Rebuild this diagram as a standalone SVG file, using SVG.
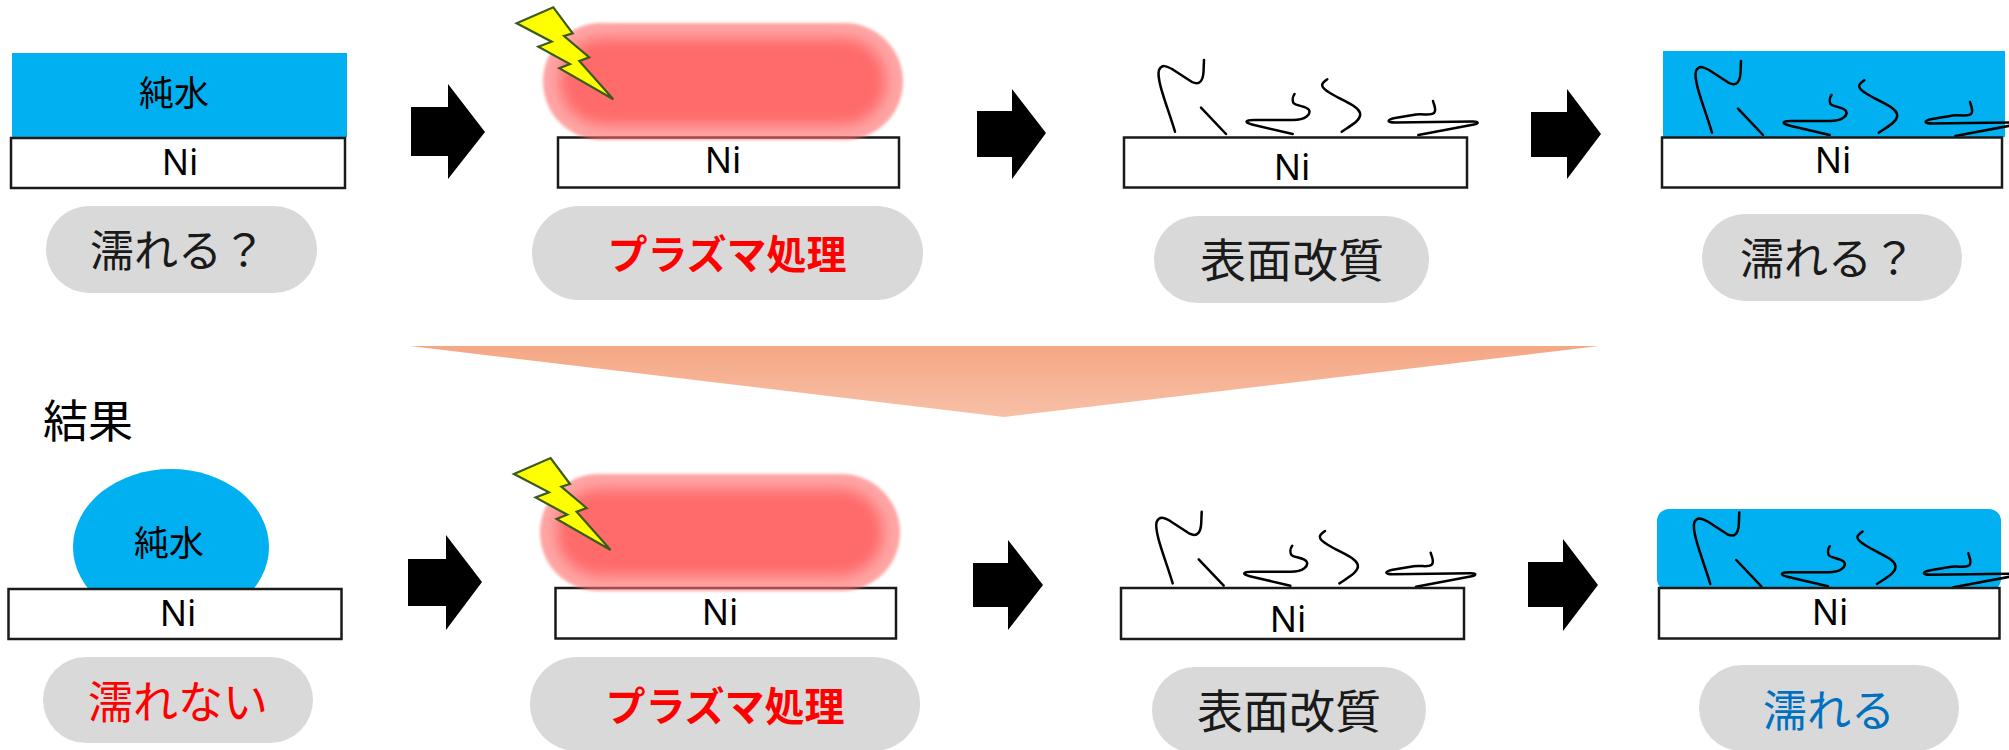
<svg xmlns="http://www.w3.org/2000/svg" xmlns:xlink="http://www.w3.org/1999/xlink" width="2009" height="750" viewBox="0 0 2009 750">
  <style>
    .jp { font-family: "Noto Sans CJK JP", "Noto Sans", sans-serif; text-anchor: middle; }
    .ni { font-family: "Noto Sans", "Open Sans", sans-serif; font-size: 36px; text-anchor: middle; fill: #000; }
    .sub { fill: #fff; stroke: #1a1a1a; stroke-width: 2.5; }
    .pill { fill: #d9d9d9; }
    .water { fill: #00b0f0; }
    .arrow { fill: #000; }
    .chain { fill: none; stroke: #000; stroke-width: 2.5; stroke-linecap: round; stroke-linejoin: round; }
    .bolt { fill: #ffff00; stroke: #3b5a1c; stroke-width: 2.2; stroke-linejoin: miter; }
  </style>
  <defs>
    <linearGradient id="funnelGrad" x1="0" y1="0" x2="0" y2="1">
      <stop offset="0" stop-color="#f5a784"/>
      <stop offset="1" stop-color="#f7c0a7"/>
    </linearGradient>
    <filter id="softEdge" x="-20%" y="-40%" width="140%" height="180%">
      <feGaussianBlur stdDeviation="7"/>
    </filter>
    <filter id="softOuter" x="-10%" y="-20%" width="120%" height="140%">
      <feGaussianBlur stdDeviation="1.5"/>
    </filter>
    <!-- surface chains grafted on the Ni substrate -->
    <g id="chains" class="chain">
      <path d="M1175,131.7 C1168,108 1156,80 1159,70 C1162,64 1166,66 1172,69 L1192,82 C1200,86 1203,80 1203.5,72 L1204,60"/>
      <path d="M1201,107.7 L1226,134"/>
      <path d="M1292.7,134 L1252,124.5 C1244,122.5 1245,120 1254,120 L1293,120 C1306,120 1311,114 1309,110 C1307,106 1296,106 1293.5,103 C1292,100 1293,96 1294.5,94"/>
      <path d="M1341.7,131.7 C1350,126 1362,120 1360,113 C1358,106 1345,102 1330,93 C1318,86 1322,83 1327.3,79.3"/>
      <path d="M1418.3,135 L1474,124.5 C1479,123.5 1479,121.5 1473,121.5 L1395,122.5 C1386,122.5 1387,119.5 1395,118 L1416,114.5 C1424,113.5 1430,116 1434,113 C1437,110 1434,105 1433,101"/>
    </g>
    <polygon id="bolt" class="bolt" points="516.7,23.3 553.3,7.3 572.7,33.3 564,36 589.3,57.3 579.3,61 613.3,99.3 559.3,68.3 570,64 538.3,46.7 551.7,41.7"/>
    <g id="plasma">
      <rect x="543" y="23" width="360" height="117" rx="58.5" fill="#ff6b6b" opacity="0.6" filter="url(#softOuter)"/>
      <rect x="560" y="38" width="326" height="87" rx="43.5" fill="#ff6b6b" filter="url(#softEdge)"/>
    </g>
  </defs>

  <rect width="2009" height="750" fill="#fff"/>

  <!-- connectors: block arrows and the summary funnel -->
  <g id="connectors">
    <polygon class="arrow" points="411,107 448,107 448,84 485,132 448,179 448,156 411,156"/>
    <polygon class="arrow" points="977,111 1012,111 1012,89 1046,133 1012,179 1012,157 977,157"/>
    <polygon class="arrow" points="1531,112 1567,112 1567,89 1601,134 1567,179 1567,157 1531,157"/>
    <polygon class="arrow" points="408,559 446,559 446,535 482,582 446,630 446,606 408,606"/>
    <polygon class="arrow" points="973,563 1008,563 1008,540 1043,585 1008,630 1008,607 973,607"/>
    <polygon class="arrow" points="1528,562 1563,562 1563,539 1598,585 1563,631 1563,607 1528,607"/>
    <polygon id="funnel" points="410,346 1599,346 1004,417" fill="url(#funnelGrad)"/>
  </g>

  <!-- top row -->
  <g id="step1-top">
    <rect class="water" x="12" y="53" width="335" height="84"/>
    <text class="jp" x="174" y="106" font-size="35">純水</text>
    <rect class="sub" x="11" y="138" width="334" height="50"/>
    <text class="ni" x="180" y="175">Ni</text>
    <rect class="pill" x="46" y="206" width="271" height="87" rx="43.5"/>
    <text class="jp" x="178" y="267" font-size="44" fill="#1a1a1a">濡れる？</text>
  </g>

  <g id="step2-top">
    <rect class="sub" x="558" y="137.5" width="341" height="50"/>
    <text class="ni" x="723" y="173">Ni</text>
    <use xlink:href="#plasma"/>
    <use xlink:href="#bolt"/>
    <rect class="pill" x="532" y="206" width="391" height="94" rx="47"/>
    <text class="jp" x="727" y="269" font-size="40" font-weight="bold" fill="#ff0000">プラズマ処理</text>
  </g>

  <g id="step3-top">
    <use xlink:href="#chains"/>
    <rect class="sub" x="1124" y="137.5" width="343" height="50"/>
    <text class="ni" x="1292" y="180">Ni</text>
    <rect class="pill" x="1154" y="216" width="275" height="87" rx="43.5"/>
    <text class="jp" x="1292" y="277" font-size="46" fill="#1a1a1a">表面改質</text>
  </g>

  <g id="step4-top">
    <rect class="water" x="1663" y="51" width="342" height="86"/>
    <use xlink:href="#chains" transform="translate(537,1)"/>
    <rect class="sub" x="1662" y="137.5" width="340" height="50"/>
    <text class="ni" x="1833" y="173">Ni</text>
    <rect class="pill" x="1702" y="214" width="260" height="87" rx="43.5"/>
    <text class="jp" x="1828" y="275" font-size="44" fill="#1a1a1a">濡れる？</text>
  </g>

  <!-- bottom row: results -->
  <g id="result-title">
    <text class="jp" x="88" y="438" font-size="45" fill="#000">結果</text>
  </g>

  <g id="step1-bottom">
    <ellipse class="water" cx="171" cy="547" rx="98" ry="78"/>
    <text class="jp" x="169" y="556" font-size="35">純水</text>
    <rect class="sub" x="8.5" y="589" width="333" height="50"/>
    <text class="ni" x="178" y="626">Ni</text>
    <rect class="pill" x="43" y="657" width="270" height="86" rx="43"/>
    <text class="jp" x="178" y="719" font-size="45" fill="#ff0000">濡れない</text>
  </g>

  <g id="step2-bottom">
    <rect class="sub" x="555.5" y="588" width="340.5" height="50.5"/>
    <text class="ni" x="720" y="625">Ni</text>
    <use xlink:href="#plasma" transform="translate(-3,451)"/>
    <use xlink:href="#bolt" transform="translate(-2.7,450.7)"/>
    <rect class="pill" x="530" y="657" width="390" height="94" rx="47"/>
    <text class="jp" x="725" y="721" font-size="40" font-weight="bold" fill="#ff0000">プラズマ処理</text>
  </g>

  <g id="step3-bottom">
    <use xlink:href="#chains" transform="translate(-2.3,451.7)"/>
    <rect class="sub" x="1121" y="588" width="343" height="51"/>
    <text class="ni" x="1288" y="631.5">Ni</text>
    <rect class="pill" x="1152" y="667" width="274" height="86" rx="43"/>
    <text class="jp" x="1289" y="728" font-size="46" fill="#1a1a1a">表面改質</text>
  </g>

  <g id="step4-bottom">
    <rect class="water" x="1657" y="509" width="344" height="82" rx="12"/>
    <use xlink:href="#chains" transform="translate(535.3,452.3)"/>
    <rect class="sub" x="1659" y="588" width="340.5" height="50.5"/>
    <text class="ni" x="1830" y="625">Ni</text>
    <rect class="pill" x="1699" y="665" width="260" height="86" rx="43"/>
    <text class="jp" x="1829" y="727" font-size="44" fill="#0070c0">濡れる</text>
  </g>
</svg>
